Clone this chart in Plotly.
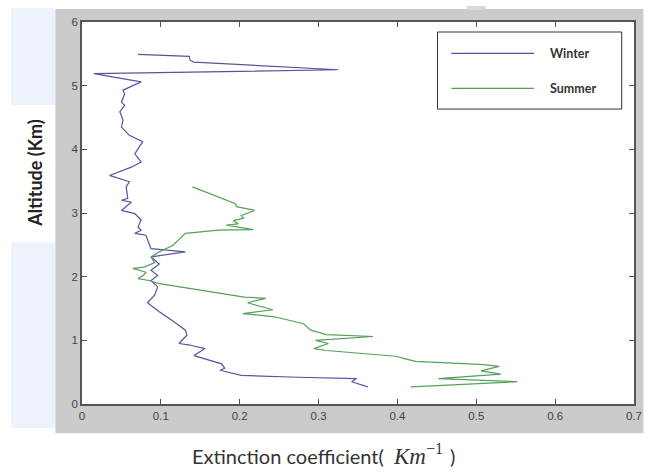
import plotly.graph_objects as go

# ---- data ----
winter_ext = [0.071, 0.136, 0.137, 0.142, 0.325, 0.015, 0.075, 0.052, 0.054, 0.050, 0.054,
              0.048, 0.052, 0.050, 0.060, 0.077, 0.067, 0.075, 0.0625, 0.035, 0.060, 0.056,
              0.058, 0.050, 0.0625, 0.050, 0.067, 0.075, 0.071, 0.075, 0.067, 0.081, 0.0875,
              0.131, 0.0875, 0.098, 0.0875, 0.096, 0.0875, 0.096, 0.092, 0.083, 0.098, 0.108,
              0.118, 0.131, 0.133, 0.123, 0.135, 0.156, 0.142, 0.177, 0.181, 0.175, 0.202,
              0.273, 0.348, 0.342, 0.3625]
winter_alt = [5.49, 5.46, 5.40, 5.37, 5.25, 5.19, 5.06, 4.93, 4.87, 4.74, 4.69,
              4.59, 4.46, 4.35, 4.22, 4.12, 3.93, 3.80, 3.72, 3.59, 3.49, 3.41,
              3.23, 3.20, 3.17, 3.04, 2.99, 2.89, 2.78, 2.73, 2.68, 2.65, 2.44,
              2.39, 2.31, 2.20, 2.10, 2.02, 1.94, 1.84, 1.71, 1.59, 1.45, 1.37,
              1.28, 1.16, 1.08, 0.95, 0.93, 0.87, 0.76, 0.63, 0.56, 0.53, 0.45,
              0.42, 0.40, 0.35, 0.27]

summer_ext = [0.140, 0.194, 0.196, 0.219, 0.202, 0.205, 0.192, 0.198, 0.183, 0.217, 0.173,
              0.144, 0.131, 0.115, 0.098, 0.0875, 0.092, 0.079, 0.0645, 0.081, 0.078, 0.071,
              0.085, 0.098, 0.123, 0.206, 0.233, 0.210, 0.242, 0.204, 0.244, 0.281, 0.290,
              0.310, 0.369, 0.296, 0.3125, 0.294, 0.310, 0.398, 0.410, 0.423, 0.510, 0.529,
              0.506, 0.531, 0.452, 0.514, 0.552, 0.417]
summer_alt = [3.41, 3.15, 3.10, 3.04, 2.96, 2.92, 2.88, 2.83, 2.81, 2.74, 2.73,
              2.70, 2.68, 2.49, 2.39, 2.31, 2.22, 2.15, 2.13, 2.07, 2.02, 1.97,
              1.94, 1.89, 1.84, 1.68, 1.66, 1.59, 1.48, 1.42, 1.37, 1.26, 1.16,
              1.09, 1.06, 1.00, 0.95, 0.87, 0.84, 0.75, 0.71, 0.67, 0.62, 0.59,
              0.52, 0.47, 0.40, 0.37, 0.35, 0.27]

series_names = ["Winter", "Summer"]
series_colors = ["#5454a0", "#55a05a"]
x_ticks = [0, 0.1, 0.2, 0.3, 0.4, 0.5, 0.6, 0.7]
y_ticks = [0, 1, 2, 3, 4, 5, 6]

fig = go.Figure()
fig.add_trace(go.Scatter(x=winter_ext, y=winter_alt, mode="lines", name=series_names[0],
                         line=dict(color=series_colors[0], width=1.2), showlegend=False))
fig.add_trace(go.Scatter(x=summer_ext, y=summer_alt, mode="lines", name=series_names[1],
                         line=dict(color=series_colors[1], width=1.2), showlegend=False))

W, H = 651, 472
L, R, T, B = 82, 8.5, 22, 68.3
pw, ph = W - L - R, H - T - B


def px(x):
    return (x - L) / pw


def py(y):
    return (H - B - y) / ph


shapes = [
    # light blue side panels (slide background)
    dict(type="rect", xref="paper", yref="paper", x0=px(10), x1=px(55), y0=py(105), y1=py(8),
         fillcolor="#eef2fa", line=dict(width=0), layer="below"),
    dict(type="rect", xref="paper", yref="paper", x0=px(10), x1=px(55), y0=py(428), y1=py(242),
         fillcolor="#eef2fa", line=dict(width=0), layer="below"),
    # gray figure panel
    dict(type="rect", xref="paper", yref="paper", x0=px(55), x1=px(652), y0=py(433), y1=py(9),
         fillcolor="#cbcbcb", line=dict(width=0), layer="below"),
    dict(type="rect", xref="paper", yref="paper", x0=px(473), x1=px(492), y0=py(10), y1=py(6),
         fillcolor="#d8d8d8", line=dict(width=0), layer="below"),
    # white axes area
    dict(type="rect", xref="paper", yref="paper", x0=0, x1=1, y0=0, y1=1,
         fillcolor="white", line=dict(width=0), layer="below"),
    # legend box
    dict(type="rect", xref="paper", yref="paper", x0=px(443), x1=px(630), y0=py(109), y1=py(32),
         fillcolor="white", line=dict(color="#333333", width=1)),
]
annotations = []
leg_y = [53.3, 88.3]
for name, col, yy in zip(series_names, series_colors, leg_y):
    shapes.append(dict(type="line", xref="paper", yref="paper", x0=px(457), x1=px(541),
                       y0=py(yy), y1=py(yy), line=dict(color=col, width=1.3)))
    annotations.append(dict(text="<b>" + name + "</b>", xref="paper", yref="paper",
                            x=px(555), y=py(yy), xanchor="left", yanchor="middle",
                            showarrow=False, font=dict(family="Lato", size=12.5, color="#333333")))

annotations.append(dict(text="<b>Altitude (Km)</b>", xref="paper", yref="paper",
                        x=px(34), y=py(173), textangle=-90, showarrow=False,
                        xanchor="center", yanchor="middle",
                        font=dict(family="Lato", size=18, color="#222222")))
annotations.append(dict(text="Extinction coefficient(", xref="paper", yref="paper",
                        x=px(391), y=py(456), showarrow=False,
                        xanchor="right", yanchor="middle",
                        font=dict(family="Lato", size=20, color="#333333")))
annotations.append(dict(text="<i>Km</i><sup>−1</sup>", xref="paper", yref="paper",
                        x=px(396), y=py(454), showarrow=False,
                        xanchor="left", yanchor="middle",
                        font=dict(family="Liberation Serif", size=23, color="#333333")))
annotations.append(dict(text=")", xref="paper", yref="paper",
                        x=px(454), y=py(456), showarrow=False,
                        xanchor="left", yanchor="middle",
                        font=dict(family="Lato", size=20, color="#333333")))

axis_common = dict(showline=True, linecolor="#555555", linewidth=1.5, mirror="allticks",
                   ticks="inside", ticklen=5, tickcolor="#555555", showgrid=False,
                   zeroline=False, tickfont=dict(family="Liberation Sans", size=11.5, color="#444444"))

fig.update_layout(
    width=W, height=H,
    margin=dict(l=L, r=R, t=T, b=B, pad=0),
    paper_bgcolor="white", plot_bgcolor="rgba(0,0,0,0)",
    xaxis=dict(range=[0, 0.7], tickvals=x_ticks, ticktext=[str(v) for v in x_ticks], **axis_common),
    yaxis=dict(range=[0, 6], tickvals=y_ticks, ticktext=[str(v) for v in y_ticks], **axis_common),
    shapes=shapes, annotations=annotations, showlegend=False,
)

fig.write_html("out.html")
